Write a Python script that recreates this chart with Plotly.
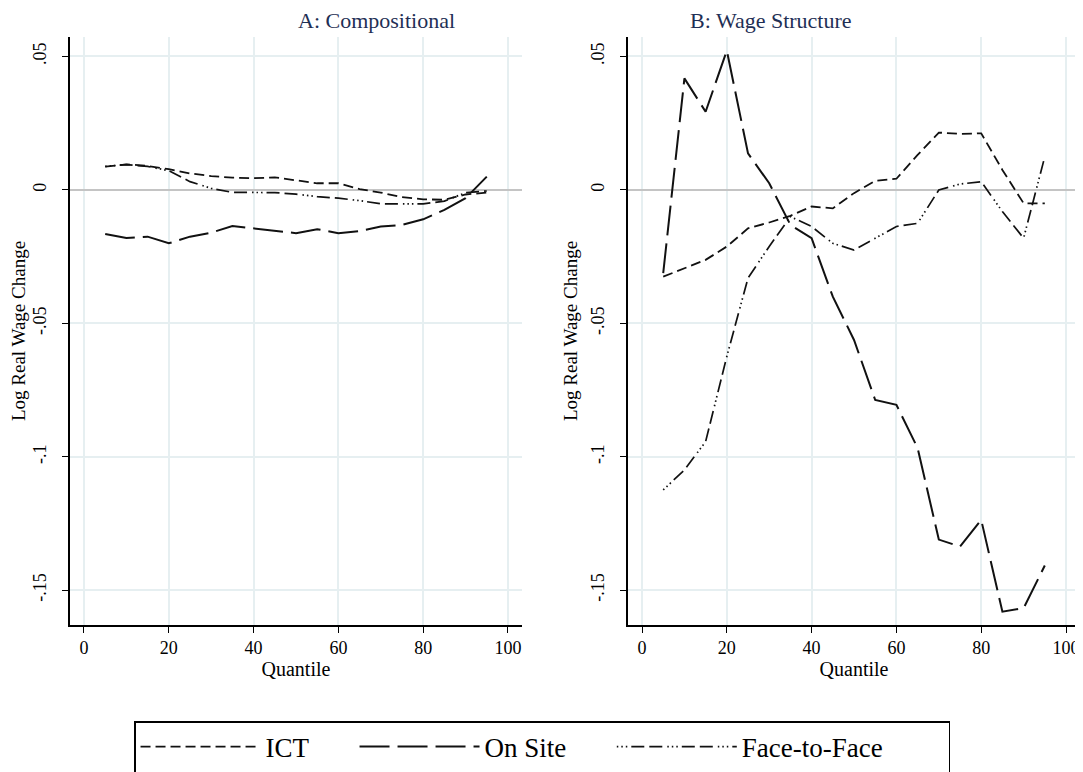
import plotly.graph_objects as go

quantiles = [5, 10, 15, 20, 25, 30, 35, 40, 45, 50, 55, 60, 65, 70, 75, 80, 85, 90, 95]

# Panel A: Compositional
ict_a = [0.0087, 0.0096, 0.0090, 0.0078, 0.0062, 0.0052, 0.0046, 0.0044, 0.0047, 0.0035,
         0.0025, 0.0025, 0.0003, -0.0010, -0.0027, -0.0035, -0.0037, -0.0017, -0.0010]
onsite_a = [-0.0165, -0.0180, -0.0175, -0.0200, -0.0175, -0.0160, -0.0135, -0.0144, -0.0152, -0.0162,
            -0.0147, -0.0162, -0.0154, -0.0137, -0.0131, -0.0110, -0.0075, -0.0031, 0.0050]
f2f_a = [0.0088, 0.0095, 0.0088, 0.0072, 0.0031, 0.0006, -0.0009, -0.0009, -0.0010, -0.0016,
         -0.0025, -0.0031, -0.0040, -0.0052, -0.0052, -0.0052, -0.0042, -0.0010, -0.0004]

# Panel B: Wage Structure
ict_b = [-0.0325, -0.0293, -0.0262, -0.0212, -0.0144, -0.0122, -0.0097, -0.0062, -0.0069, -0.0012,
         0.0034, 0.0042, 0.0131, 0.0215, 0.0210, 0.0212, 0.0075, -0.0050, -0.0050]
onsite_b = [-0.0312, 0.0418, 0.0293, 0.0522, 0.0137, 0.0025, -0.0131, -0.0181, -0.0400, -0.0562,
            -0.0787, -0.0805, -0.0967, -0.1310, -0.1336, -0.1236, -0.1580, -0.1567, -0.1407]
f2f_b = [-0.1124, -0.1049, -0.0943, -0.0624, -0.0330, -0.0212, -0.0100, -0.0137, -0.0200, -0.0225,
         -0.0181, -0.0137, -0.0125, 0.0000, 0.0022, 0.0031, -0.0081, -0.0181, 0.0125]

series_names = ["ICT", "On Site", "Face-to-Face"]
legend_pad = {"ICT": 6, "On Site": 6, "Face-to-Face": 9}
panel_titles = ["A: Compositional", "B: Wage Structure"]
y_tickvals = [0.05, 0, -0.05, -0.1, -0.15]
y_ticktext = [".05", "0", "-.05", "-.1", "-.15"]
x_tickvals = [0, 20, 40, 60, 80, 100]

styles = {
    "ICT": dict(dash="10px,5px", width=1.8),
    "On Site": dict(dash="30px,8px", width=2.0),
    "Face-to-Face": dict(dash="1.5px,3px,1.5px,3px,1.5px,4px,13px,5px,13px,5px", width=1.7),
}

FONT = "Liberation Serif"
fig = go.Figure()

panels = [(ict_a, onsite_a, f2f_a), (ict_b, onsite_b, f2f_b)]
for p, data in enumerate(panels):
    xa = "x" if p == 0 else "x2"
    ya = "y" if p == 0 else "y2"
    for name, vals in zip(series_names, data):
        label = name + "\u00a0" * legend_pad[name]
        fig.add_trace(go.Scatter(
            x=quantiles, y=vals, mode="lines", name=label,
            line=dict(color="#111111", **styles[name]),
            xaxis=xa, yaxis=ya, showlegend=(p == 0),
        ))

axis_common_x = dict(
    range=[-3.3, 103.3], tickvals=x_tickvals, showgrid=True, gridcolor="#e6eff1", gridwidth=1.5,
    showline=True, linecolor="black", linewidth=1.5, ticks="outside", ticklen=6, tickcolor="black",
    tickfont=dict(family=FONT, size=18, color="black"), zeroline=False, automargin=False,
    title=dict(text="Quantile", font=dict(family=FONT, size=20, color="black"), standoff=5),
)
axis_common_y = dict(
    range=[-0.163, 0.0573], tickvals=y_tickvals, ticktext=y_ticktext, tickangle=-90,
    showgrid=True, gridcolor="#e6eff1", gridwidth=1.5,
    showline=True, linecolor="black", linewidth=1.5, ticks="outside", ticklen=6, tickcolor="black",
    tickfont=dict(family=FONT, size=18, color="black"), ticklabelstandoff=9, automargin=False,
    zeroline=True, zerolinecolor="#c4c4c4", zerolinewidth=2,
    title=dict(text="Log Real Wage Change", font=dict(family=FONT, size=19, color="black"), standoff=5),
)

fig.update_layout(
    width=1075, height=764,
    margin=dict(l=62, r=3, t=29, b=147, autoexpand=False),
    paper_bgcolor="white", plot_bgcolor="white",
    xaxis=dict(domain=[0, 0.4475], **axis_common_x),
    xaxis2=dict(domain=[0.5525, 1], anchor="y2", **axis_common_x),
    yaxis=dict(anchor="x", **axis_common_y),
    yaxis2=dict(anchor="x2", **axis_common_y),
    legend=dict(
        orientation="h", x=0.0634, xanchor="left", y=-0.1633, yanchor="top",
        bordercolor="black", borderwidth=1.5, bgcolor="white",
        font=dict(family=FONT, size=27, color="black"), itemwidth=120,
    ),
    annotations=[
        dict(text=panel_titles[0], x=0.4475 / 2, y=1, xref="paper", yref="paper",
             yanchor="middle", yshift=17, showarrow=False,
             font=dict(family=FONT, size=22, color="#1f2f55")),
        dict(text=panel_titles[1], x=(0.5525 + 1) / 2, y=1, xref="paper", yref="paper",
             yanchor="middle", yshift=17, showarrow=False,
             font=dict(family=FONT, size=22, color="#1f2f55")),
    ],
)

fig.write_html("out.html")
